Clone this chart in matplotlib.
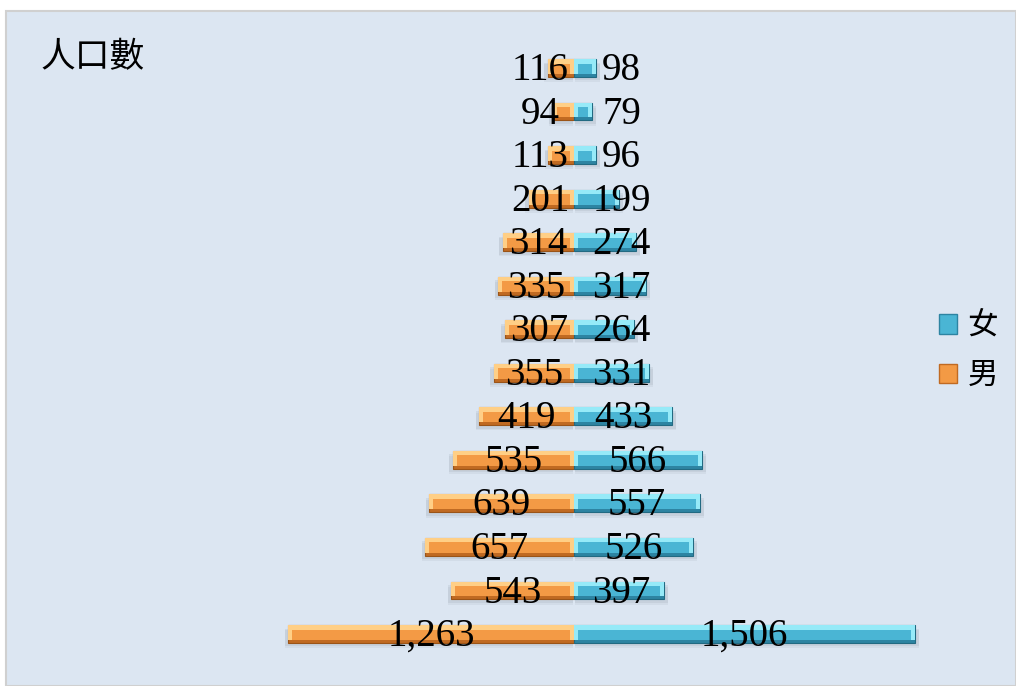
import numpy as np
import matplotlib
matplotlib.use("Agg")
import matplotlib.pyplot as plt
from matplotlib.patches import Patch, Rectangle

# data, bottom row first
male = [1263, 543, 657, 639, 535, 419, 355, 307, 335, 314, 201, 113, 94, 116]
female = [1506, 397, 526, 557, 566, 433, 331, 264, 317, 274, 199, 96, 79, 98]
title = "人口數"
series_names = ["女", "男"]

cjk = ["Noto Sans CJK TC", "DejaVu Sans"]
num_font = "Liberation Serif"

# colours
org_face, org_top, org_dark = "#F39A45", "#FFCF86", "#C06A22"
blu_face, blu_top, blu_dark = "#4AB5D4", "#96EAF8", "#2D84A2"

W, H = 1016, 686
fig = plt.figure(figsize=(W / 100, H / 100), dpi=100)
fig.patch.set_facecolor("white")
# chart area background with thin grey border
fig.patches.append(Rectangle((6 / W, 0), 1 - 6 / W, 1 - 11 / H, transform=fig.transFigure,
                             facecolor="#DCE6F2", edgecolor="#D0D0D0", linewidth=1.5, zorder=-10))

ax = fig.add_axes([0, 0, 1, 1])
ax.set_facecolor("none")
ax.axis("off")

center_px = 574
scale = 0.2262  # px per person
pitch = 43.54   # px per row
ax.set_xlim(-center_px / scale, (W - center_px) / scale)
ax.set_ylim((634 - H) / pitch, 634 / pitch)

y = np.arange(len(male))
m = np.array(male)
f = np.array(female)
h = 0.41
bx = 4 / scale   # horizontal bevel in data units
by = 3 / pitch   # vertical bevel

# soft shadow below the bars
for dy, a in [(0.12, 0.10), (0.08, 0.14)]:
    ax.barh(y - dy, -m - 12, height=h, left=-4, color="#7F8A96", alpha=a, zorder=1, linewidth=0)
    ax.barh(y - dy, f + 14, height=h, left=4, color="#7F8A96", alpha=a, zorder=1, linewidth=0)

# dark base (bottom facet + outline)
ax.barh(y, -m, height=h, color=org_dark, edgecolor="#9A5418", linewidth=0.8, zorder=2)
ax.barh(y, f, height=h, color=blu_dark, edgecolor="#226A82", linewidth=0.8, zorder=2)

# light top facet
ax.barh(y + by / 2, -m, height=h - by, color=org_top, linewidth=0, zorder=3)
ax.barh(y + by / 2, f, height=h - by, color=blu_top, linewidth=0, zorder=3)

# face
ax.barh(y - by / 4, -(m - 2 * bx), left=-bx, height=h - 2.5 * by, color=org_face, linewidth=0, zorder=4)
ax.barh(y - by / 4, f - 2 * bx, left=bx, height=h - 2.5 * by, color=blu_face, linewidth=0, zorder=4)

# data labels
for i in range(len(y)):
    xl = -max(m[i] / 2, 150)
    xr = max(f[i] / 2, 210)
    ax.text(xl, y[i] - 0.06, f"{m[i]:,}", ha="center", va="center", fontsize=28,
            family=num_font, color="black", zorder=6)
    ax.text(xr, y[i] - 0.06, f"{f[i]:,}", ha="center", va="center", fontsize=28,
            family=num_font, color="black", zorder=6)

fig.text(40 / W, 1 - 58 / H, title, ha="left", va="center", fontsize=25,
         family=cjk, color="black")

handles = [Patch(facecolor=blu_face, edgecolor=blu_dark),
           Patch(facecolor=org_face, edgecolor=org_dark)]
leg = ax.legend(handles, series_names, loc="center left", frameon=False,
                bbox_to_anchor=(911 / W, 1 - 351 / H), bbox_transform=fig.transFigure,
                prop={"family": cjk, "size": 22}, handlelength=0.6, handleheight=0.6,
                handletextpad=0.35, labelspacing=0.6)

fig.savefig("out.png", dpi=100, facecolor=fig.get_facecolor())
